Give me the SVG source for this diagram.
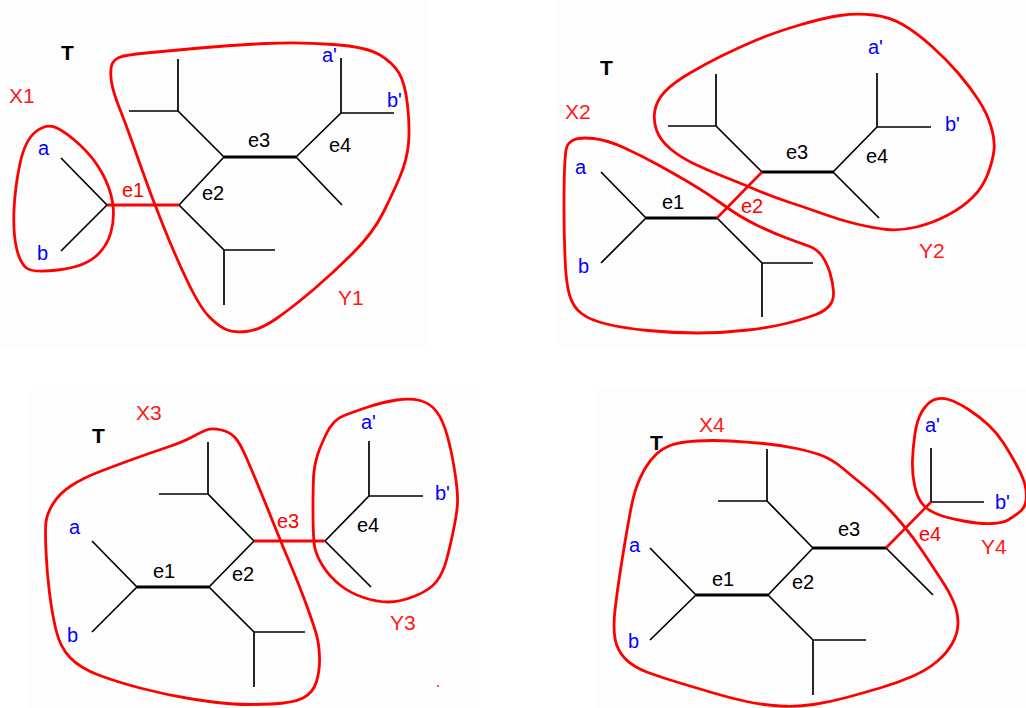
<svg xmlns="http://www.w3.org/2000/svg" width="1026" height="708" viewBox="0 0 1026 708">
<style>
  .bg{fill:#fdfdfd;stroke:none}
  .e{stroke:#000;stroke-width:1.7;fill:none;stroke-linecap:butt}
  .ek{stroke:#000;stroke-width:3;fill:none}
  .er{stroke:#ff0000;stroke-width:2.6;fill:none}
  .erk{stroke:#ff0000;stroke-width:3;fill:none}
  .blob{fill:none;stroke:#ff0000;stroke-width:2.8;stroke-linejoin:round}
  text{font-family:"Liberation Sans",Arial,sans-serif}
  .t{font-size:21px;font-weight:bold;fill:#000}
  .lb{font-size:20px;fill:#0000ff}
  .le{font-size:20px;fill:#000}
  .lr{font-size:20px;fill:#ff0000}
  .xy{font-size:21px;fill:#ff1a1a}
</style>
<rect x="0" y="0" width="1026" height="708" fill="#ffffff"/>
<rect class="bg" x="0" y="0" width="430" height="348"/>
<rect class="bg" x="557" y="0" width="469" height="348"/>
<rect class="bg" x="30" y="386" width="450" height="322"/>
<rect class="bg" x="597" y="387" width="429" height="321"/>

<!-- Panel 1 -->
<g id="panel1">
  <g id="p1-connectors">
    <path class="e" d="M61,158 L107,205 M61,251 L107,205 M179,205 L224,157 M179,205 L224,250 M224,250 L275,250 M224,250 L224,305 M224,157 L178,111 M178,111 L178,59 M178,111 L129,111 M296,157 L341,113 M341,113 L341,58 M341,113 L394,113 M296,157 L342,205"/>
    <path class="ek" d="M224,157 L296,157"/>
    <path class="erk" d="M107,205 L179,205"/>
  </g>
  <g id="p1-X1"><path class="blob" d="M36,131.5 Q47,123 57,128 Q67,133 80,145 Q93,157 101.5,172 Q110,187 112.5,202 Q115,217 111,232 Q107,247 95,257 Q83,267 58,270 Q33,273 26.5,268 Q20,263 16.5,248 Q13,233 14,210 Q15,187 20,163.5 Q25,140 36,131.5 Z"/></g>
  <g id="p1-Y1"><path class="blob" d="M111.5,82 Q110,72 111.5,66 Q113,60 119,57.5 Q125,55 146,53 Q167,51 200,48 Q233,45 266.5,43.5 Q300,42 333.5,44.5 Q367,47 380,55 Q393,63 399,73 Q405,83 407.5,105 Q410,127 408.5,143.5 Q407,160 400,176.5 Q393,193 383,213 Q373,233 353,253 Q333,273 313,290 Q293,307 276.5,318.5 Q260,330 246.5,331.5 Q233,333 225,329 Q217,325 208.5,316 Q200,307 188.5,283.5 Q177,260 163.5,226.5 Q150,193 138.5,160 Q127,127 120,109.5 Q113,92 111.5,82 Z"/></g>
  <g id="p1-labels">
    <text class="t" x="61" y="60">T</text>
    <text class="xy" x="9" y="103">X1</text>
    <text class="xy" x="338" y="305">Y1</text>
    <text class="lb" x="38" y="155">a</text>
    <text class="lb" x="37" y="260">b</text>
    <text class="lb" x="322" y="62">a'</text>
    <text class="lb" x="387" y="107">b'</text>
    <text class="lr" x="122" y="197">e1</text>
    <text class="le" x="202" y="200">e2</text>
    <text class="le" x="248" y="147">e3</text>
    <text class="le" x="329" y="152">e4</text>
  </g>
</g>

<!-- Panel 2 -->
<g id="panel2">
  <g id="p2-connectors">
    <path class="e" d="M601,172 L646,218 M601,263 L646,218 M717,218 L762,263 M762,263 L813,263 M762,263 L762,317 M762,172 L716,126 M716,126 L716,74 M716,126 L668,126 M833,172 L877,127 M877,127 L877,73 M877,127 L931,127 M833,172 L879,218"/>
    <path class="ek" d="M646,218 L717,218 M762,172 L833,172"/>
    <path class="er" d="M717,218 L762,172"/>
  </g>
  <g id="p2-X2"><path class="blob" d="M564.5,170 Q565,157 566,150 Q567,143 573.5,140 Q580,137 593.5,138.5 Q607,140 623.5,147.5 Q640,155 656.5,164 Q673,173 690,183 Q707,193 723.5,205 Q740,217 756.5,225 Q773,233 786.5,238 Q800,243 808.5,246 Q817,249 822,256 Q827,263 830,273 Q833,283 833.5,291.5 Q834,300 829.5,305.5 Q825,311 816,314.5 Q807,318 790,322.5 Q773,327 748,330 Q723,333 698,333 Q673,333 648,330.5 Q623,328 606.5,324 Q590,320 581.5,313.5 Q573,307 569.5,295 Q566,283 565,258 Q564,233 564,208 Q564,183 564.5,170 Z"/></g>
  <g id="p2-Y2"><path class="blob" d="M656.5,130 Q653,120 655,110 Q657,100 665,91.5 Q673,83 690,73 Q707,63 723.5,55 Q740,47 756.5,40 Q773,33 798,25.5 Q823,18 840,15.5 Q857,13 873.5,15 Q890,17 903.5,25 Q917,33 932,46.5 Q947,60 958.5,73.5 Q970,87 978.5,100 Q987,113 991,126.5 Q995,140 994,150 Q993,160 988,173.5 Q983,187 973,197 Q963,207 948,215 Q933,223 916.5,227 Q900,231 886.5,229.5 Q873,228 856.5,224 Q840,220 823.5,214 Q807,208 790,202.5 Q773,197 756.5,190 Q740,183 723.5,176.5 Q707,170 693.5,163.5 Q680,157 670,148.5 Q660,140 656.5,130 Z"/></g>
  <g id="p2-labels">
    <text class="t" x="600" y="75">T</text>
    <text class="xy" x="565" y="119">X2</text>
    <text class="xy" x="919" y="258">Y2</text>
    <text class="lb" x="575" y="174">a</text>
    <text class="lb" x="578" y="273">b</text>
    <text class="lb" x="868" y="54">a'</text>
    <text class="lb" x="945" y="131">b'</text>
    <text class="le" x="662" y="209">e1</text>
    <text class="lr" x="741" y="213">e2</text>
    <text class="le" x="786" y="159">e3</text>
    <text class="le" x="866" y="163">e4</text>
  </g>
</g>

<!-- Panel 3 -->
<g id="panel3">
  <g id="p3-connectors">
    <path class="e" d="M92,541 L137,587 M92,632 L137,587 M209,587 L254,541 M209,587 L254,632 M254,632 L305,632 M254,632 L254,687 M254,541 L208,494 M208,494 L208,442 M208,494 L159,494 M325,541 L369,496 M369,496 L369,441 M369,496 L423,496 M325,541 L371,587"/>
    <path class="ek" d="M137,587 L209,587"/>
    <path class="erk" d="M254,541 L325,541"/>
  </g>
  <g id="p3-X3"><path class="blob" d="M208,429.5 Q213,428 221.5,430 Q230,432 235,437.5 Q240,443 246.5,458 Q253,473 260,490 Q267,507 275,527 Q283,547 291.5,567 Q300,587 306.5,605 Q313,623 316,633 Q319,643 319.5,656.5 Q320,670 316.5,681.5 Q313,693 303,698 Q293,703 271.5,704 Q250,705 233.5,704 Q217,703 192,699 Q167,695 142,688.5 Q117,682 98.5,675 Q80,668 70,657.5 Q60,647 56,630 Q52,613 49.5,593 Q47,573 46,551.5 Q45,530 46,521.5 Q47,513 53.5,503 Q60,493 71.5,485.5 Q83,478 100,471.5 Q117,465 133.5,459 Q150,453 166.5,447.5 Q183,442 193,436.5 Q203,431 208,429.5 Z"/></g>
  <g id="p3-Y3"><path class="blob" d="M317.5,455 Q320,447 326.5,433.5 Q333,420 343,416 Q353,412 368,407 Q383,402 396.5,400 Q410,398 420,400.5 Q430,403 436.5,411.5 Q443,420 447.5,436.5 Q452,453 455,473 Q458,493 457.5,503 Q457,513 453.5,530 Q450,547 446.5,560 Q443,573 436.5,581.5 Q430,590 415,596 Q400,602 388.5,602 Q377,602 363.5,597.5 Q350,593 340,585 Q330,577 323.5,567 Q317,557 315,548.5 Q313,540 313,510 Q313,480 314,471.5 Q315,463 317.5,455 Z"/></g>
  <rect x="437" y="685" width="2" height="2" fill="#ff5050"/>
  <g id="p3-labels">
    <text class="t" x="92" y="443">T</text>
    <text class="xy" x="136" y="420">X3</text>
    <text class="xy" x="390" y="630">Y3</text>
    <text class="lb" x="69" y="534">a</text>
    <text class="lb" x="67" y="642">b</text>
    <text class="lb" x="361" y="429">a'</text>
    <text class="lb" x="435" y="500">b'</text>
    <text class="le" x="153" y="578">e1</text>
    <text class="le" x="232" y="581">e2</text>
    <text class="lr" x="277" y="528">e3</text>
    <text class="le" x="357" y="532">e4</text>
  </g>
</g>

<!-- Panel 4 -->
<g id="panel4">
  <g id="p4-connectors">
    <path class="e" d="M650,548 L696,595 M650,640 L696,595 M768,595 L813,548 M768,595 L813,640 M813,640 L866,640 M813,640 L813,695 M813,548 L767,501 M767,501 L767,449 M767,501 L718,501 M931,502 L931,448 M931,502 L984,502 M886,548 L933,595"/>
    <path class="ek" d="M696,595 L768,595 M813,548 L886,548"/>
    <path class="er" d="M886,548 L931,502"/>
  </g>
  <g id="p4-X4"><path class="blob" d="M645,468.5 Q650,460 656.5,454 Q663,448 671.5,445 Q680,442 696.5,441 Q713,440 730,441 Q747,442 763.5,443.5 Q780,445 796.5,448.5 Q813,452 823,456 Q833,460 843,468.5 Q853,477 863,485 Q873,493 883,503 Q893,513 903,525 Q913,537 923,552 Q933,567 941.5,580 Q950,593 954,603 Q958,613 958,623 Q958,633 952.5,643 Q947,653 937,661.5 Q927,670 912,676.5 Q897,683 880,688 Q863,693 846.5,697.5 Q830,702 813.5,704.5 Q797,707 780,706 Q763,705 746.5,701.5 Q730,698 713.5,693 Q697,688 680,683 Q663,678 648,672.5 Q633,667 625,658.5 Q617,650 615,638.5 Q613,627 615,610 Q617,593 619.5,576.5 Q622,560 624.5,545 Q627,530 630,513.5 Q633,497 636.5,487 Q640,477 645,468.5 Z"/></g>
  <g id="p4-Y4"><path class="blob" d="M912.5,460 Q913,447 915,433.5 Q917,420 922,411.5 Q927,403 933.5,400 Q940,397 948.5,399.5 Q957,402 968.5,409.5 Q980,417 988.5,425 Q997,433 1003.5,443 Q1010,453 1016.5,465 Q1023,477 1025,485 Q1027,493 1026,500.5 Q1025,508 1019,512.5 Q1013,517 1008,520 Q1003,523 991.5,523.5 Q980,524 963.5,521 Q947,518 937,514 Q927,510 922,503.5 Q917,497 914.5,485 Q912,473 912.5,460 Z"/></g>
  <g id="p4-labels">
    <text class="t" x="650" y="450">T</text>
    <text class="xy" x="699" y="432">X4</text>
    <text class="xy" x="981" y="554">Y4</text>
    <text class="lb" x="629" y="552">a</text>
    <text class="lb" x="628" y="648">b</text>
    <text class="lb" x="925" y="432">a'</text>
    <text class="lb" x="995" y="509">b'</text>
    <text class="le" x="712" y="586">e1</text>
    <text class="le" x="792" y="589">e2</text>
    <text class="le" x="838" y="536">e3</text>
    <text class="lr" x="919" y="541">e4</text>
  </g>
</g>
</svg>
